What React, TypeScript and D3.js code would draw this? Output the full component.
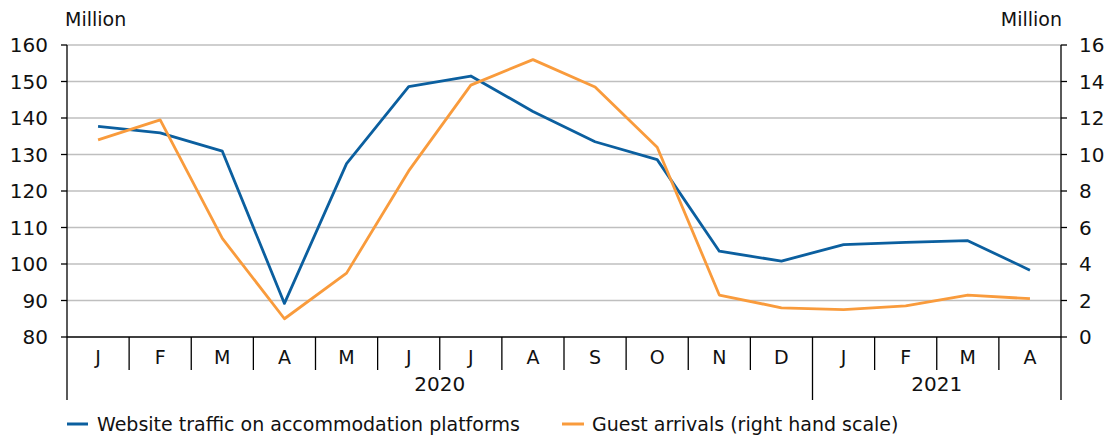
import React from "react";
import * as d3 from "d3";

const months = ["J", "F", "M", "A", "M", "J", "J", "A", "S", "O", "N", "D", "J", "F", "M", "A"];
const years = [
  { label: "2020", start: 0, end: 12 },
  { label: "2021", start: 12, end: 16 },
];
const websiteTraffic = [137.7, 135.9, 130.9, 89.2, 127.5, 148.6, 151.5, 141.8, 133.5, 128.6, 103.5, 100.8, 105.3, 105.9, 106.4, 98.3];
const guestArrivals = [10.8, 11.9, 5.4, 1.0, 3.5, 9.1, 13.8, 15.2, 13.7, 10.4, 2.3, 1.6, 1.5, 1.7, 2.3, 2.1];
const leftTicks = [80, 90, 100, 110, 120, 130, 140, 150, 160];
const rightTicks = [0, 2, 4, 6, 8, 10, 12, 14, 16];

const W = 1111;
const H = 436;
const left = 67;
const right = 1061;
const top = 45;
const bottom = 337;
const BLUE = "#0b5f9f";
const ORANGE = "#f99b3c";
const FONT = "'DejaVu Sans', Verdana, sans-serif";

export default function App() {
  const idx = months.map((_, i) => String(i));
  const x = d3.scaleBand().domain(idx).range([left, right]);
  const yL = d3.scaleLinear().domain([80, 160]).range([bottom, top]);
  const yR = d3.scaleLinear().domain([0, 16]).range([bottom, top]);
  const cx = (i: number) => (x(String(i)) as number) + x.bandwidth() / 2;
  const lineL = d3.line<number>().x((_, i) => cx(i)).y((d) => yL(d));
  const lineR = d3.line<number>().x((_, i) => cx(i)).y((d) => yR(d));
  const bx = (i: number) => (i < months.length ? (x(String(i)) as number) : right);

  return (
    <svg width={W} height={H} style={{ position: "absolute", left: 0, top: 0 }} fontFamily={FONT}>
      <rect width={W} height={H} fill="#fff" />
      {leftTicks.map((t) => (
        <g key={"g" + t}>
          {t !== 80 && <line x1={left} x2={right} y1={yL(t)} y2={yL(t)} stroke="#bfbfbf" strokeWidth={1.5} />}
          <line x1={left - 6} x2={left} y1={yL(t)} y2={yL(t)} stroke="#000" strokeWidth={1.3} />
          <text x={48} y={yL(t)} dy="0.36em" textAnchor="end" fontSize={20} fill="#111">{t}</text>
        </g>
      ))}
      {rightTicks.map((t) => (
        <g key={"r" + t}>
          <line x1={right} x2={right + 6} y1={yR(t)} y2={yR(t)} stroke="#000" strokeWidth={1.3} />
          <text x={1079} y={yR(t)} dy="0.36em" textAnchor="start" fontSize={20} fill="#111">{t}</text>
        </g>
      ))}
      <line x1={left} x2={left} y1={top} y2={400} stroke="#000" strokeWidth={1.3} />
      <line x1={right} x2={right} y1={top} y2={400} stroke="#000" strokeWidth={1.3} />
      <line x1={left} x2={right} y1={bottom} y2={bottom} stroke="#000" strokeWidth={1.3} />
      {months.map((m, i) => (
        <g key={"m" + i}>
          {i > 0 && (
            <line
              x1={bx(i)}
              x2={bx(i)}
              y1={bottom}
              y2={years.some((yy) => yy.start === i) ? 400 : 370}
              stroke="#000"
              strokeWidth={1.3}
            />
          )}
          <text x={cx(i)} y={357} dy="0.36em" textAnchor="middle" fontSize={19} fill="#111">{m}</text>
        </g>
      ))}
      {years.map((yy) => (
        <text key={yy.label} x={(bx(yy.start) + bx(yy.end)) / 2} y={384} dy="0.36em" textAnchor="middle" fontSize={20} fill="#111">
          {yy.label}
        </text>
      ))}
      <text x={65} y={19} dy="0.36em" fontSize={19} fill="#111">Million</text>
      <text x={1062} y={19} dy="0.36em" textAnchor="end" fontSize={19} fill="#111">Million</text>
      <path d={lineL(websiteTraffic) || ""} fill="none" stroke={BLUE} strokeWidth={2.8} strokeLinejoin="round" />
      <path d={lineR(guestArrivals) || ""} fill="none" stroke={ORANGE} strokeWidth={2.8} strokeLinejoin="round" />
      <line x1={67} x2={88} y1={424} y2={424} stroke={BLUE} strokeWidth={3} />
      <text x={97} y={424} dy="0.36em" fontSize={19} fill="#111">Website traffic on accommodation platforms</text>
      <line x1={562} x2={584} y1={424} y2={424} stroke={ORANGE} strokeWidth={3} />
      <text x={592} y={424} dy="0.36em" fontSize={19} fill="#111">Guest arrivals (right hand scale)</text>
    </svg>
  );
}
